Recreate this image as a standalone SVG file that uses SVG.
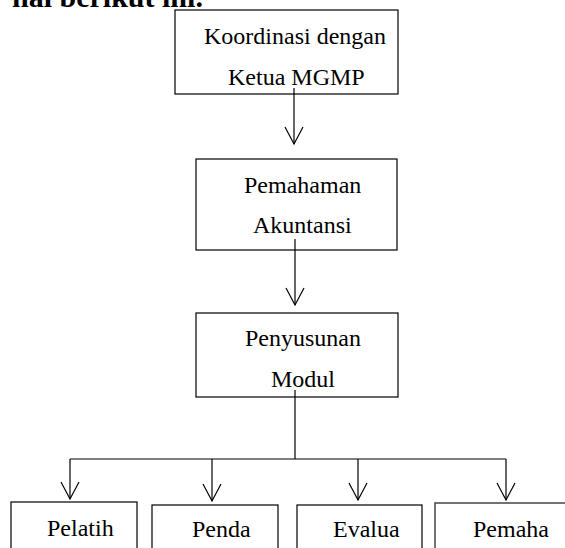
<svg xmlns="http://www.w3.org/2000/svg" width="565" height="548" viewBox="0 0 565 548">
<defs>
<style>
.box{fill:#fff;stroke:#000;stroke-width:1.2}
.t{font-family:"Liberation Serif","Times New Roman",serif;font-size:24px;fill:#000}
.h{font-family:"Liberation Serif","Times New Roman",serif;font-size:30px;font-weight:bold;fill:#000}
.c{fill:none;stroke:#000;stroke-width:1.2}
</style>
<marker id="arr" markerWidth="20" markerHeight="20" refX="18" refY="10" orient="auto" markerUnits="userSpaceOnUse" viewBox="0 0 20 20">
<path d="M1,1 L18,10 L1,19" fill="none" stroke="#000" stroke-width="1.2"/>
</marker>
</defs>
<rect width="565" height="548" fill="#fff"/>
<text class="h" x="12" y="7">hal berikut ini.</text>
<g id="n1">
<rect class="box" x="175" y="10" width="223" height="84"/>
<text class="t" x="204" y="44">Koordinasi dengan</text>
<text class="t" x="228" y="85">Ketua MGMP</text>
</g>
<g id="n2">
<rect class="box" x="196" y="159" width="201" height="91"/>
<text class="t" x="244" y="193">Pemahaman</text>
<text class="t" x="253" y="233">Akuntansi</text>
</g>
<g id="n3">
<rect class="box" x="196" y="313" width="202" height="84"/>
<text class="t" x="245" y="346">Penyusunan</text>
<text class="t" x="271" y="387">Modul</text>
</g>
<g id="n4">
<rect class="box" x="11" y="502" width="126" height="60"/>
<text class="t" x="47" y="536">Pelatih</text>
</g>
<g id="n5">
<rect class="box" x="152" y="505" width="126" height="60"/>
<text class="t" x="192" y="537">Penda</text>
</g>
<g id="n6">
<rect class="box" x="297" y="505" width="125" height="60"/>
<text class="t" x="333" y="537">Evalua</text>
</g>
<g id="n7">
<rect class="box" x="435" y="503" width="140" height="60" style="stroke:#444;stroke-width:1.5"/>
<text class="t" x="473" y="537">Pemaha</text>
</g>
<g id="connectors">
<line class="c" x1="294" y1="88" x2="294" y2="144" marker-end="url(#arr)"/>
<line class="c" x1="295" y1="239" x2="295" y2="305" marker-end="url(#arr)"/>
<line class="c" x1="295" y1="390" x2="295" y2="459"/>
<line class="c" x1="70" y1="459" x2="506" y2="459"/>
<line class="c" x1="70" y1="459" x2="70" y2="499" marker-end="url(#arr)"/>
<line class="c" x1="212" y1="459" x2="212" y2="501" marker-end="url(#arr)"/>
<line class="c" x1="358" y1="459" x2="358" y2="500" marker-end="url(#arr)"/>
<line class="c" x1="506" y1="459" x2="506" y2="500" marker-end="url(#arr)"/>
</g>
</svg>
